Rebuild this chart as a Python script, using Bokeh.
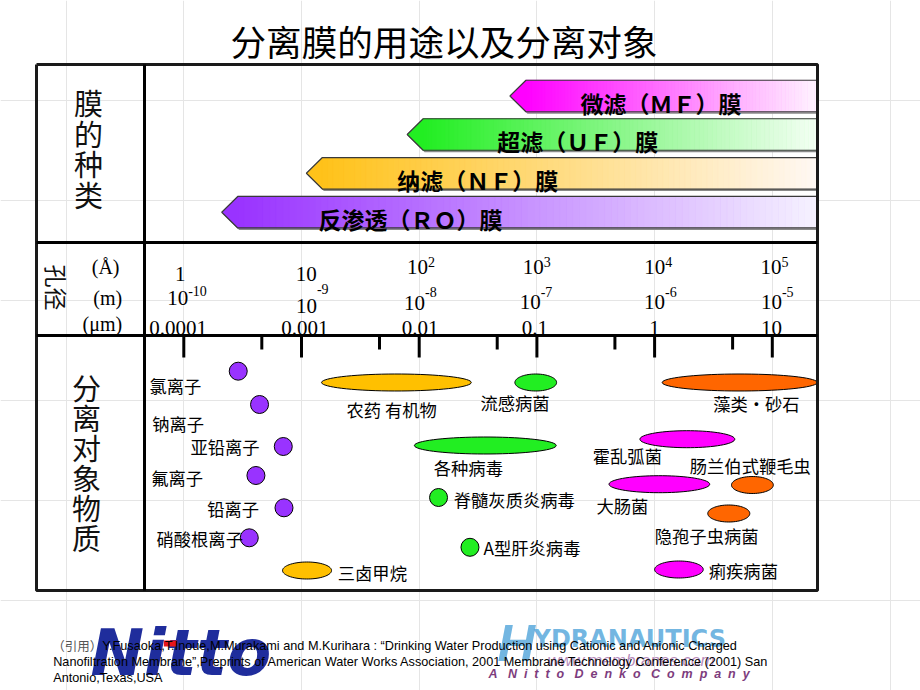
import numpy as np
from bokeh.plotting import figure
from bokeh.models import Range1d
from bokeh.core.properties import value
from bokeh.embed import file_html
from bokeh.resources import INLINE

# ---------------- data ----------------
TITLE = "分离膜的用途以及分离对象"

mem_names = ["微滤（ＭＦ）膜", "超滤（ＵＦ）膜", "纳滤（ＮＦ）膜", "反渗透（ＲＯ）膜"]
mem_min_A = [590, 79, 11, 2.1]          # smallest pore size (Å) = arrow tip
mem_c0 = ["#FF00FF", "#22EE22", "#FFC21A", "#9933FF"]
mem_c1 = ["#FFF4FF", "#F4FFF4", "#FFF8F4", "#F6F2FF"]

ion_names = ["氯离子", "钠离子", "亚铅离子", "氟离子", "铅离子", "硝酸根离子"]
ion_A = [2.9, 4.4, 7.0, 4.1, 7.1, 3.6]

dot_names = ["脊髓灰质炎病毒", "A型肝炎病毒"]
dot_A = [146, 270]

obj_names = ["三卤甲烷", "农药 有机物", "流感病菌", "藻类・砂石", "各种病毒",
             "霍乱弧菌", "大肠菌", "肠兰伯式鞭毛虫", "隐孢子虫病菌", "痢疾病菌"]
obj_min_A = [6.9, 14.8, 650, 11600, 91, 7500, 4100, 45000, 28300, 10000]
obj_max_A = [18, 277, 1470, 241000, 1460, 48000, 29400, 102000, 64400, 25900]
obj_colors = ["#FFC000", "#FFC000", "#22EE22", "#FF6600", "#22EE22",
              "#FF00FF", "#FF00FF", "#FF6600", "#FF6600", "#FF00FF"]

major_A = [1, 10, 100, 1000, 10000, 100000]
minor_A = [4.6, 46, 460, 4600, 46000]
lab_A_base = ["1", "10", "10", "10", "10", "10"]
lab_A_exp = ["", "", "2", "3", "4", "5"]
lab_m_exp = ["-10", "-9", "-8", "-7", "-6", "-5"]
lab_um = ["0.0001", "0.001", "0.01", "0.1", "1", "10"]
units = ["(Å)", "(m)", "(μm)"]

head1 = "膜的种类"
head2 = "孔径"
head3 = "分离对象物质"

cite_prefix = "（引用）"
cite_lines = ["Y.Fusaoka,T.Inoue,M.Murakami and M.Kurihara : “Drinking Water Production using Cationic and Anionic Charged",
              "Nanofiltration Membrane”,Preprints of American Water Works Association, 2001 Membrane Technology Conference (2001) San",
              "Antonio,Texas,USA"]
company = "A Nitto Denko Company"

# ---------------- layout ----------------
W, H = 920, 690
X0_PX, PX_DEC = 183.3, 117.7      # page px of 1 Å, px per decade
FRAME_L, FRAME_R, FRAME_T, FRAME_B = 36, 817, 64, 590
DIV_X = 144
DIV_Y = [242, 335]

mem_y = [95.5, 134, 172.8, 211.7]
mem_h = 31.5
mem_tip = 16
mem_lab_left = [580, 496.7, 396.7, 318]

ion_y = [370.7, 404, 446, 475, 507.3, 537.3]
ion_lab = [(149, 385), (151.7, 422.5), (190, 446), (150.7, 476.7), (206.7, 508.3), (156, 538.3)]
dot_y = [497, 546.8]
dot_lab = [(453.3, 499), (483, 547)]
obj_y = [570, 382, 382, 382, 445, 438.7, 483.7, 484.5, 513, 569]
obj_h = 17
obj_lab = [(337.3, 571.7), (346, 409), (480, 401.7), (712.7, 403.3), (433.3, 466.7),
           (592.3, 455), (596, 505), (689.3, 465), (654.3, 535), (708.3, 570)]

rowA_dx = [-3.6, 4.7, -1.7, -3.7, 0.2, -1.2]
rowB_dx = [-6.1, 4.9, -4.7, -6.7, 0.0, -0.9]
rowB_y = [297, 305, 302.5, 301.7, 301.7, 301.7]
rowB_ey = [290, 288, 291, 291, 291, 291]
rowC_dx = [-5.8, 3.4, 1.0, -2.0, 0.0, -0.9]

CJK = value("Noto Sans CJK SC")
SERIF = value("Liberation Serif")
SANS = value("Liberation Sans")
NB = "\u00a0"


def px_to_A(px):
    return 10 ** ((np.asarray(px, dtype=float) - X0_PX) / PX_DEC)


def A_to_px(a):
    return X0_PX + PX_DEC * np.log10(np.asarray(a, dtype=float))


def mix(c0, c1, t):
    a = [int(c0[i:i + 2], 16) for i in (1, 3, 5)]
    b = [int(c1[i:i + 2], 16) for i in (1, 3, 5)]
    return "#%02x%02x%02x" % tuple(int(round(a[k] + (b[k] - a[k]) * t)) for k in range(3))


p = figure(width=W, height=H, x_axis_type="log",
           x_range=Range1d(float(px_to_A(0)), float(px_to_A(W))),
           y_range=Range1d(H, 0),
           x_axis_location=None, y_axis_location=None,
           toolbar_location=None, output_backend="svg", min_border=0)
p.outline_line_color = None
p.background_fill_color = "white"
p.border_fill_color = "white"

# ---------- logos (behind citation text) ----------
p.text(x=[float(px_to_A(90))], y=[652], text=["Nitto"], text_font=value("DejaVu Sans"),
       text_font_size=value("64px"), text_font_style="bold italic",
       text_color="#1f2d9c", text_align="left", text_baseline="middle")
p.quad(left=[float(px_to_A(163.3))], right=[float(px_to_A(176.7))], top=[640], bottom=[646],
       fill_color="#e8151b", line_color=None)
p.text(x=[float(px_to_A(497))], y=[642], text=["H"], text_font=SANS,
       text_font_size=value("52px"), text_font_style="bold italic",
       text_color="#5aa9dc", text_alpha=0.85, text_align="left", text_baseline="middle")
p.text(x=[float(px_to_A(533))], y=[638], text=["YDRANAUTICS"], text_font=value("DejaVu Sans"),
       text_font_size=value("24px"), text_font_style="bold",
       text_color="#5aa9dc", text_alpha=0.85, text_align="left", text_baseline="middle")
p.text(x=[float(px_to_A(547))], y=[660], text=["www.membranes.com"], text_font=SANS,
       text_font_size=value("17px"), text_font_style="italic",
       text_color="#a066a6", text_alpha=0.75, text_align="left", text_baseline="middle")
spaced = (NB * 3).join((NB * 2).join(list(w)) for w in company.split(" "))
p.text(x=[float(px_to_A(488))], y=[673], text=[spaced],
       text_font=SANS, text_font_size=value("12.5px"), text_font_style="bold italic",
       text_color="#7d3c7d", text_align="left", text_baseline="middle")

# ---------- citation ----------
p.text(x=[float(px_to_A(51.7))], y=[645], text=[cite_prefix], text_font=CJK,
       text_font_size=value("12.5px"), text_color="#555555", text_align="left", text_baseline="middle")
p.text(x=[float(px_to_A(101.7)), float(px_to_A(52.7)), float(px_to_A(52.7))], y=[645, 661, 677],
       text=cite_lines, text_font=SANS, text_font_size=value("12.7px"),
       text_color="black", text_align="left", text_baseline="middle")

# ---------- membrane arrows ----------
for name, amin, c0, c1, cy, lx in zip(mem_names, mem_min_A, mem_c0, mem_c1, mem_y, mem_lab_left):
    tip = float(A_to_px(amin))
    body = tip + mem_tip
    xs_px = [tip, body, FRAME_R, FRAME_R, body]
    ys = [cy, cy - mem_h / 2, cy - mem_h / 2, cy + mem_h / 2, cy + mem_h / 2]
    p.patch(x=list(px_to_A(np.array(xs_px) + 1.5)), y=[v + 2 for v in ys], fill_color="#8a8a8a",
            line_color=None)
    p.patch(x=list(px_to_A(xs_px)), y=ys, fill_color=c0, line_color=None)
    n = 90
    edges = np.linspace(body, FRAME_R, n + 1)
    cols = [mix(c0, c1, (i + 0.5) / n) for i in range(n)]
    p.quad(left=px_to_A(edges[:-1]), right=px_to_A(edges[1:]), top=[cy - mem_h / 2] * n,
           bottom=[cy + mem_h / 2] * n, fill_color=cols, line_color=cols, line_width=0.8)
    p.patch(x=list(px_to_A(xs_px)), y=ys, fill_color=None, line_color="#3a3a3a", line_width=1.2)
    p.text(x=[float(px_to_A(lx))], y=[cy + 6.5], text=[name], text_font=CJK,
           text_font_size=value("23px"), text_font_style="bold", text_color="black",
           text_align="left", text_baseline="middle")

# ---------- pore-size scale labels ----------
for i, a in enumerate(major_A):
    tp = float(A_to_px(a))
    cx = tp + rowA_dx[i]
    if lab_A_exp[i] == "":
        p.text(x=[float(px_to_A(cx))], y=[273], text=[lab_A_base[i]], text_font=SERIF,
               text_font_size=value("21px"), text_align="center", text_baseline="middle", text_color="black")
    else:
        p.text(x=[float(px_to_A(cx))], y=[266], text=[lab_A_base[i]], text_font=SERIF,
               text_font_size=value("21px"), text_align="center", text_baseline="middle", text_color="black")
        p.text(x=[float(px_to_A(cx + 10.5))], y=[261], text=[lab_A_exp[i]], text_font=SERIF,
               text_font_size=value("14px"), text_align="left", text_baseline="middle", text_color="black")
    cxb = tp + rowB_dx[i]
    p.text(x=[float(px_to_A(cxb))], y=[rowB_y[i]], text=["10"], text_font=SERIF,
           text_font_size=value("21px"), text_align="center", text_baseline="middle", text_color="black")
    p.text(x=[float(px_to_A(cxb + 10.5))], y=[rowB_ey[i]], text=[lab_m_exp[i]], text_font=SERIF,
           text_font_size=value("14px"), text_align="left", text_baseline="middle", text_color="black")
    p.text(x=[float(px_to_A(tp + rowC_dx[i]))], y=[327], text=[lab_um[i]], text_font=SERIF,
           text_font_size=value("21px"), text_align="center", text_baseline="middle", text_color="black")

p.text(x=[float(px_to_A(119)), float(px_to_A(121.7)), float(px_to_A(121.7))], y=[266.5, 297.5, 323],
       text=units, text_font=SERIF, text_font_size=value("20px"), text_align="right",
       text_baseline="middle", text_color="black")

# ---------- headings ----------
p.text(x=[float(px_to_A(443.5))], y=[40], text=[TITLE], text_font=CJK, text_font_size=value("35.6px"),
       text_align="center", text_baseline="middle", text_color="black")
n1 = len(head1)
p.text(x=[float(px_to_A(88))] * n1, y=[147.5 + (k - (n1 - 1) / 2) * 30.4 for k in range(n1)],
       text=list(head1), text_font=CJK, text_font_size=value("29px"),
       text_align="center", text_baseline="middle", text_color="#111111")
n3 = len(head3)
p.text(x=[float(px_to_A(86))] * n3, y=[461.7 + (k - (n3 - 1) / 2) * 30 for k in range(n3)],
       text=list(head3), text_font=CJK, text_font_size=value("29px"),
       text_align="center", text_baseline="middle", text_color="#111111")
p.text(x=[float(px_to_A(56))], y=[287], text=[head2], text_font=CJK, text_font_size=value("23px"),
       angle=-np.pi / 2, text_align="center", text_baseline="middle", text_color="#111111")

# ---------- separation objects ----------
t = np.linspace(0, 2 * np.pi, 72)
exs, eys = [], []
for lo, hi, cy in zip(obj_min_A, obj_max_A, obj_y):
    la, lb = np.log10(lo), np.log10(hi)
    exs.append(list(10 ** (la + (lb - la) * (1 + np.cos(t)) / 2)))
    eys.append(list(cy + obj_h / 2 * np.sin(t)))
p.patches(xs=exs, ys=eys, fill_color=obj_colors, line_color="black", line_width=1)

p.scatter(x=ion_A, y=ion_y, size=18, fill_color="#9933FF", line_color="black", line_width=1)
p.scatter(x=dot_A, y=dot_y, size=18, fill_color="#22EE22", line_color="black", line_width=1)

lab_names = ion_names + dot_names + obj_names
lab_pos = ion_lab + dot_lab + obj_lab
p.text(x=[float(px_to_A(a)) for a, _ in lab_pos], y=[b for _, b in lab_pos], text=lab_names,
       text_font=CJK, text_font_size=value("17.3px"), text_align="left", text_baseline="middle",
       text_color="black")

# ---------- ticks ----------
p.segment(x0=major_A, x1=major_A, y0=[DIV_Y[1]] * len(major_A), y1=[357] * len(major_A),
          line_color="black", line_width=3)
p.segment(x0=minor_A, x1=minor_A, y0=[DIV_Y[1]] * len(minor_A), y1=[349] * len(minor_A),
          line_color="black", line_width=3)

# ---------- frame ----------
fx = list(px_to_A([FRAME_L, FRAME_R, FRAME_R, FRAME_L, FRAME_L]))
p.line(x=fx, y=[FRAME_T, FRAME_T, FRAME_B, FRAME_B, FRAME_T], line_color="#1a1a1a", line_width=3)
p.segment(x0=[float(px_to_A(DIV_X))] + [float(px_to_A(FRAME_L))] * 2,
          x1=[float(px_to_A(DIV_X))] + [float(px_to_A(FRAME_R))] * 2,
          y0=[FRAME_T] + DIV_Y, y1=[FRAME_B] + DIV_Y, line_color="black", line_width=3)

open("out.html", "w").write(file_html(p, INLINE))
